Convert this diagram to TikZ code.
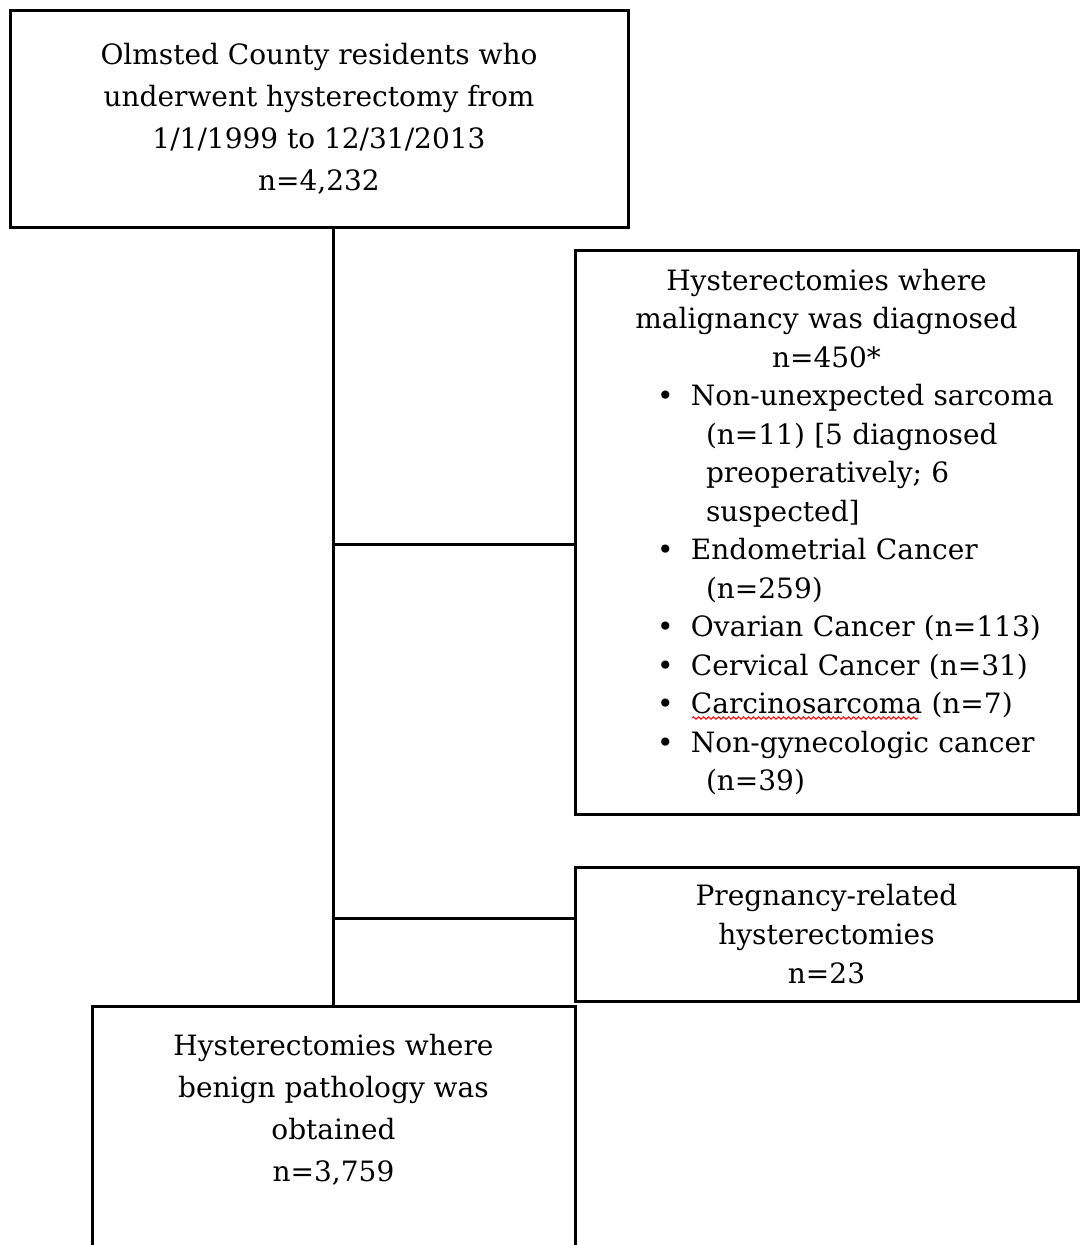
\documentclass[tikz,border=0pt]{standalone}
\usepackage{fontspec}
\setmainfont{DejaVu Serif}
\usetikzlibrary{positioning,decorations.pathmorphing}

\newcommand{\bitem}[1]{\par\noindent\hangindent=114.5pt\hangafter=1\hspace*{65.5pt}\makebox[34pt][l]{\textbullet}#1\par}

\begin{document}
\begin{tikzpicture}[x=1pt, y=-1pt, line width=3pt,
    box/.style = {draw, rectangle, align=center, inner sep=0pt,
                  font=\fontsize{28}{42}\selectfont},
    spell/.style = {draw=red, line width=1pt,
                  decorate, decoration={snake, amplitude=1.2pt, segment length=5pt}},]

	\useasboundingbox (0,0) rectangle (1081,1245);

	\node[box, minimum width=618pt, minimum height=217pt] (start) at (319,118.5)
		{Olmsted County residents who\\underwent hysterectomy from\\1/1/1999 to 12/31/2013\\n=4,232};

	\node[box, minimum width=503pt, minimum height=564pt, text width=470pt, align=left,
	      font=\fontsize{28}{38.5}\selectfont] (malig) at (826.5,532)
		{\centering Hysterectomies where\\malignancy was diagnosed\\n=450*\par
		 \raggedright
		 \bitem{Non-unexpected sarcoma\hfil\break(n=11) [5 diagnosed\hfil\break preoperatively; 6\hfil\break suspected]}
		 \bitem{Endometrial Cancer\hfil\break(n=259)}
		 \bitem{Ovarian Cancer (n=113)}
		 \bitem{Cervical Cancer (n=31)}
		 \bitem{Carcinosarcoma (n=7)}
		 \bitem{Non-gynecologic cancer\hfil\break(n=39)}};

	\node[box, minimum width=503pt, minimum height=134pt, font=\fontsize{28}{39}\selectfont] (preg) at (826.5,934)
		{Pregnancy-related\\hysterectomies\\n=23};

	\node[box, minimum width=483pt, minimum height=300pt] (benign) at (333.5,1156) {};
	\node[box, draw=none, below=28pt of benign.north] (benigntxt)
		{Hysterectomies where\\benign pathology was\\obtained\\n=3,759};

	% trunk and branches
	\draw (start.south -| benign.north) -- (benign.north);
	\draw ([yshift=-12pt]malig.west) -- ([yshift=-12pt]malig.west -| benign.north);
	\draw ([yshift=16pt]preg.west) -- ([yshift=16pt]preg.west -| benign.north);

	% spell-check mark
	\draw[spell] (692,718) -- (918,718);

\end{tikzpicture}
\end{document}
